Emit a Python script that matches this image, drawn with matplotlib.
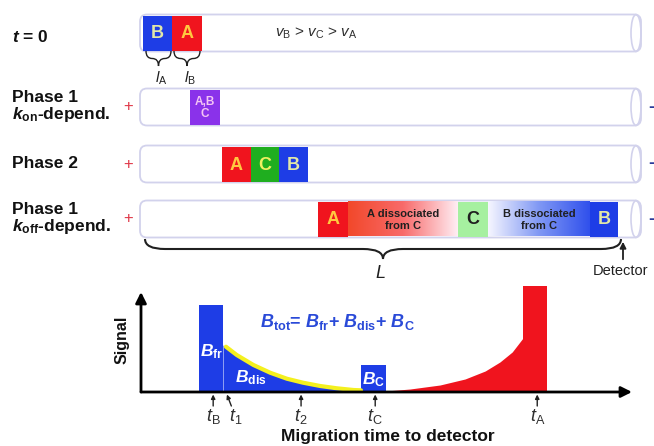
import numpy as np
import matplotlib.pyplot as plt
from matplotlib.patches import Rectangle, FancyBboxPatch, Ellipse, PathPatch
from matplotlib.path import Path
from matplotlib.colors import LinearSegmentedColormap

plt.rcParams['font.family'] = 'Liberation Sans'
plt.rcParams['mathtext.fontset'] = 'custom'
plt.rcParams['mathtext.rm'] = 'Liberation Sans'
plt.rcParams['mathtext.it'] = 'Liberation Sans:italic'
plt.rcParams['mathtext.bf'] = 'Liberation Sans:bold:italic'
plt.rcParams['mathtext.sf'] = 'Liberation Sans:bold'

BLUE = '#1e3de6'
RED = '#f0141e'
GREEN = '#1fae1f'
PURPLE = '#8a32ea'
TXT = '#202020'
TUBE = '#d2d2ec'

# capillary rows (figure pixels, y pointing down)
row_labels = [r'$\mathbf{t}$ = 0',
              'Phase 1\n' + r'$\mathbf{k}_{\mathsf{on}}$-depend.',
              'Phase 2',
              'Phase 1\n' + r'$\mathbf{k}_{\mathsf{off}}$-depend.']
row_y = [33, 107, 164, 219]
row_poles = [False, True, True, True]
cap_x0, cap_x1 = 140, 641
cap_h = 37

# analyte zones inside the capillaries
zone_row = [0, 0, 1, 2, 2, 2, 3, 3, 3]
zone_x0 = [143, 172, 190, 222, 251, 279, 318, 458, 590]
zone_x1 = [172, 202, 220, 251, 279, 308, 348, 488, 618]
zone_col = [BLUE, RED, PURPLE, RED, GREEN, BLUE, RED, '#a6f0a0', BLUE]
zone_lab = ['B', 'A', 'A,B\nC', 'A', 'C', 'B', 'A', 'C', 'B']
zone_txt = ['#e2e8a8', '#ffc840', '#f4c4f4', '#ffc840', '#eef060', '#e2e8a8',
            '#ffc840', TXT, '#e2e8a8']

# dissociated fractions (gradient zones) in the last row
grad_x0 = [348, 488]
grad_x1 = [458, 590]
grad_cols = [['#f2482a', '#f86a6a', '#ffeef4'], ['#f6f6ff', '#8098f4', '#3050ec']]
grad_lab = ['A dissociated\nfrom C', 'B dissociated\nfrom C']

# signal trace (arbitrary time / signal units)
t_bfree = [11.8, 16.7]
s_bfree = 87
t_dis = [16.7, 17.3, 19.5, 22.9, 26.3, 29.7, 33.0, 36.5, 39.9, 43.3, 44.8]
s_dis = [47, 45.3, 37, 27, 19.3, 13.3, 9.3, 6.0, 3.7, 2.0, 1.7]
t_bc = [44.8, 49.9]
s_bc = 27
t_adis = [49.9, 54.8, 60.9, 66.0, 70.1, 73.1, 75.6, 77.8]
s_adis = [1, 3, 7, 13, 21, 30, 40, 54]
t_afree = [77.8, 82.7]
s_afree = 106

tick_t = [14.7, 17.5, 32.6, 47.7, 80.7]
tick_lab = [r'$t_\mathrm{B}$', r'$t_1$', r'$t_2$', r'$t_\mathrm{C}$', r'$t_\mathrm{A}$']


def brace(ax, x0, x1, y, d, lw=1.3, color=TXT):
    xm = (x0 + x1) / 2
    r = min(d, (x1 - x0) / 4)
    h = y + d / 2
    verts = [(x0, y), (x0, h), (x0 + r, h),
             (xm - r, h),
             (xm, h), (xm, y + d),
             (xm, h), (xm + r, h),
             (x1 - r, h),
             (x1, h), (x1, y)]
    codes = [Path.MOVETO, Path.CURVE3, Path.CURVE3,
             Path.LINETO,
             Path.CURVE3, Path.CURVE3,
             Path.CURVE3, Path.CURVE3,
             Path.LINETO,
             Path.CURVE3, Path.CURVE3]
    ax.add_patch(PathPatch(Path(verts, codes), fill=False, lw=lw, ec=color))


fig = plt.figure(figsize=(6.54, 4.46), dpi=100)
ax = fig.add_axes([0, 0, 1, 1])

for i, yc in enumerate(row_y):
    top = yc - cap_h / 2
    ax.add_patch(FancyBboxPatch((cap_x0, top), cap_x1 - cap_x0, cap_h,
                                boxstyle='round,pad=0,rounding_size=7',
                                fc='white', ec=TUBE, lw=1.3, zorder=1))
    ax.add_patch(Ellipse((cap_x1 - 5, yc), 10, cap_h, fc='none',
                         ec=TUBE, lw=1.2, zorder=3))
    ax.text(12, yc + (4 if i == 0 else 0), row_labels[i], ha='left', va='center',
            fontsize=12.5, fontweight='bold', color='#111111', linespacing=0.95)
    if row_poles[i]:
        ax.text(128, yc, '+', ha='center', va='center', fontsize=12, color='#e03a4a')
        ax.text(651, yc, '-', ha='center', va='center', fontsize=13,
                color='#2a3a9a', fontweight='bold')

for r, x0, x1, c, lab, tc in zip(zone_row, zone_x0, zone_x1, zone_col, zone_lab, zone_txt):
    yc = row_y[r]
    ax.add_patch(Rectangle((x0, yc - cap_h / 2 + 1), x1 - x0, cap_h - 2,
                           fc=c, ec='none', zorder=2))
    fs = 8.5 if '\n' in lab else 13
    ax.text((x0 + x1) / 2, yc + 1, lab, ha='center', va='center', fontsize=fs,
            fontweight='bold', color=tc, linespacing=1.05, zorder=4)

yc = row_y[3]
for x0, x1, cols, lab in zip(grad_x0, grad_x1, grad_cols, grad_lab):
    cmap = LinearSegmentedColormap.from_list('g', cols)
    ax.imshow(np.linspace(0, 1, 256)[None, :], cmap=cmap, aspect='auto',
              extent=(x0, x1, yc + cap_h / 2 - 1, yc - cap_h / 2 + 1), zorder=2)
    ax.text((x0 + x1) / 2, yc + 1, lab, ha='center', va='center', fontsize=8,
            fontweight='bold', color=TXT, linespacing=1.25, zorder=4)

ax.text(275, 33, r'$v_\mathrm{B}$ > $v_\mathrm{C}$ > $v_\mathrm{A}$', ha='left',
        va='center', fontsize=11, color='#303030')

# zone lengths at t = 0
brace(ax, 146, 171, 51, 15, lw=1.0)
brace(ax, 174, 200, 51, 15, lw=1.0)
ax.text(161, 78, r'$l_\mathrm{A}$', ha='center', va='center', fontsize=11, color=TXT)
ax.text(190, 78, r'$l_\mathrm{B}$', ha='center', va='center', fontsize=11, color=TXT)

# capillary length and detector
brace(ax, 145, 621, 239, 20, lw=1.5)
ax.text(380, 273, r'$L$', ha='center', va='center', fontsize=13, color=TXT)
ax.annotate('', xy=(623, 239), xytext=(623, 262),
            arrowprops=dict(arrowstyle='-|>', lw=1.3, color=TXT, mutation_scale=9))
ax.text(620, 271, 'Detector', ha='center', va='center', fontsize=10.5, color=TXT)

ax.set_xlim(0, 654)
ax.set_ylim(446, 0)
ax.axis('off')

# electropherogram
sax = fig.add_axes([141 / 654, 54 / 446, 491 / 654, 110 / 446])
sax.patch.set_alpha(0)
sax.set_xlim(0, 100)
sax.set_ylim(0, 110)
sax.axis('off')

sax.fill_between(t_bfree, 0, s_bfree, color=BLUE, lw=0)
sax.fill_between(t_dis, 0, s_dis, color=BLUE, lw=0)
sax.plot(t_dis[1:], s_dis[1:], color='#f4f01e', lw=3, solid_capstyle='round')
sax.fill_between(t_bc, 0, s_bc, color=BLUE, lw=0)
sax.fill_between(t_adis, 0, s_adis, color=RED, lw=0)
sax.fill_between(t_afree, 0, s_afree, color=RED, lw=0)

sax.annotate('', xy=(100, 0), xytext=(0, 0), annotation_clip=False,
             arrowprops=dict(arrowstyle='-|>', lw=2, color='black', mutation_scale=16,
                             shrinkA=0, shrinkB=0))
sax.annotate('', xy=(0, 100), xytext=(0, 0), annotation_clip=False,
             arrowprops=dict(arrowstyle='-|>', lw=2, color='black', mutation_scale=16,
                             shrinkA=0, shrinkB=0))

for t, lab in zip(tick_t, tick_lab):
    # t1 marker leans over, its label sits to the right of the tip
    lean = 0.9 if lab == r'$t_1$' else 0
    sax.annotate('', xy=(t, -2.5), xytext=(t + lean, -14), annotation_clip=False,
                 arrowprops=dict(arrowstyle='-|>', lw=1, color=TXT, mutation_scale=6,
                                 shrinkA=0, shrinkB=0))
    sax.text(t + 2 * lean, -24, lab, ha='center', va='center', fontsize=13,
             color='#303030')

sax.text(-3.9, 52, 'Signal', rotation=90, ha='center', va='center', fontsize=11.5,
         fontweight='bold', color='#111111')
sax.text(50.3, -45, 'Migration time to detector', ha='center', va='center',
         fontsize=12.5, fontweight='bold', color='#111111')

sax.text(24.2, 70, r'$\mathbf{B}_{\mathsf{tot}}$= $\mathbf{B}_{\mathsf{fr}}$+ '
         r'$\mathbf{B}_{\mathsf{dis}}$+ $\mathbf{B}_{\mathsf{C}}$',
         ha='left', va='center', fontsize=13, fontweight='bold', color='#2a4ad8')
sax.text(12.0, 40, r'$\mathbf{B}_{\mathsf{fr}}$', ha='left', va='center',
         fontsize=12.5, color='white')
sax.text(19.1, 14, r'$\mathbf{B}_{\mathsf{dis}}$', ha='left', va='center',
         fontsize=12.5, color='white')
sax.text(45.0, 12, r'$\mathbf{B}_{\mathsf{C}}$', ha='left', va='center',
         fontsize=12.5, color='white')

fig.savefig('out.png', dpi=100)
